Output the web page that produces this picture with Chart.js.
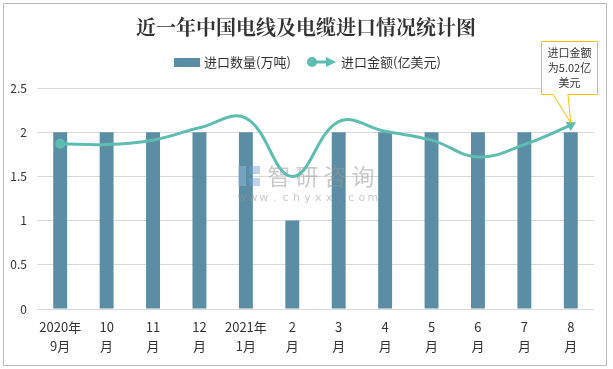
<!DOCTYPE html>
<html><head><meta charset="utf-8">
<script src="https://cdn.jsdelivr.net/npm/chart.js@4"></script>
<style>html,body{margin:0;padding:0;background:#fff}#wrap{width:613px;height:369px;position:relative}</style>
</head><body><div id="wrap"><canvas id="c" width="613" height="369"></canvas></div>
<script>
const title = '近一年中国电线及电缆进口情况统计图';
const categories = [['2020年','9月'],['10','月'],['11','月'],['12','月'],['2021年','1月'],['2','月'],['3','月'],['4','月'],['5','月'],['6','月'],['7','月'],['8','月']];
const quantityName = '进口数量(万吨)';
const amountName = '进口金额(亿美元)';
const quantity = [2,2,2,2,2,1,2,2,2,2,2,2];
const amount = [1.87,1.86,1.91,2.05,2.16,1.50,2.12,2.01,1.91,1.72,1.86,2.08];
const yTicks = [0,0.5,1,1.5,2,2.5];
const calloutLines = ['进口金额','为5.02亿','美元'];

const BAR = '#5b8ea5', LINE = '#5ebcb1';
const FONT = '"Microsoft YaHei","Noto Sans CJK SC",sans-serif';

const n = amount.length;
const decor = {
  id:'decor',
  beforeDraw(ch){
    const c = ch.ctx;
    c.save();
    c.fillStyle='#fff'; c.fillRect(0,0,ch.width,ch.height);
    c.strokeStyle='#bdbdbd'; c.lineWidth=1;
    c.strokeRect(3.5,3.5,603,362);
    c.restore();
  },
  beforeDatasetDraw(ch,args){
    if(args.index!==1) return;
    const c = ch.ctx;
    c.save();
    c.fillStyle='rgba(150,185,220,0.45)';
    c.fillRect(238,166,8,20);
    c.fillStyle='rgba(110,160,215,0.45)';
    c.fillRect(249,166,11,8); c.fillRect(249,178,11,8);
    c.fillStyle='rgba(150,150,150,0.5)';
    c.font='23px "Noto Sans CJK SC",sans-serif';
    c.textBaseline='middle'; c.textAlign='center';
    ['智','研','咨','询'].forEach((t,i)=>c.fillText(t,279+i*28,176));
    c.font='11px "DejaVu Sans",sans-serif';
    const w='www.chyxx.com';
    for(let i=0;i<w.length;i++){ c.fillText(w[i],242+i*10.9,198); }
    c.restore();
  },
  afterDraw(ch){
    const c = ch.ctx;
    c.save();
    // title
    c.fillStyle='#333'; c.textAlign='center'; c.textBaseline='middle';
    c.font='bold 20px "Noto Serif CJK SC",serif';
    c.fillText(title,306,27);
    // legend
    c.font='13px '+FONT; c.textAlign='left';
    c.fillStyle=BAR; c.fillRect(174,58,26,9);
    c.fillStyle='#333'; c.fillText(quantityName,204,62.5);
    c.strokeStyle=LINE; c.lineWidth=3;
    c.beginPath(); c.moveTo(312,62); c.lineTo(328,62); c.stroke();
    c.fillStyle=LINE; c.beginPath(); c.arc(312,62,5,0,Math.PI*2); c.fill();
    c.beginPath(); c.moveTo(336,62); c.lineTo(326,57); c.lineTo(326,67); c.closePath(); c.fill();
    c.fillStyle='#333'; c.fillText(amountName,341,62.5);
    // callout anchored to last point
    const meta = ch.getDatasetMeta(1);
    const p = meta.data[n-1];
    const tipX = p.x, tipY = p.y-2;
    const bx=541.5, by=41.5, bw=56, bh=53;
    c.beginPath();
    c.moveTo(bx,by); c.lineTo(bx+bw,by); c.lineTo(bx+bw,by+bh);
    c.lineTo(568,by+bh); c.lineTo(tipX,tipY); c.lineTo(553,by+bh);
    c.lineTo(bx,by+bh); c.closePath();
    c.fillStyle='#fff'; c.fill();
    c.strokeStyle='#ffc000'; c.lineWidth=1; c.stroke();
    c.fillStyle='#333'; c.font='11px '+FONT; c.textAlign='center';
    calloutLines.forEach((t,i)=>c.fillText(t,bx+bw/2,52.5+i*15));
    c.restore();
  }
};

const pr = amount.map((v,i)=> i===0?5:(i===n-1?6:0));
const ps = amount.map((v,i)=> i===n-1?'triangle':'circle');
const rot = amount.map((v,i)=> i===n-1?62:0);

new Chart(document.getElementById('c'),{
  data:{
    labels:categories,
    datasets:[
      {type:'bar',label:quantityName,data:quantity,backgroundColor:BAR,categoryPercentage:1,barPercentage:0.3,order:1},
      {type:'line',label:amountName,data:amount,borderColor:LINE,backgroundColor:LINE,borderWidth:3,tension:0.4,
       pointRadius:pr,pointHoverRadius:pr,pointStyle:ps,rotation:rot,pointBorderWidth:0,order:0}
    ]
  },
  options:{
    responsive:false,animation:false,devicePixelRatio:1,
    layout:{padding:{left:0,right:19,top:88,bottom:6}},
    plugins:{legend:{display:false},tooltip:{enabled:false},title:{display:false}},
    scales:{
      x:{grid:{display:false,drawTicks:false,tickLength:0},border:{display:false},
         ticks:{color:'#333',font:{size:13,family:FONT,lineHeight:1.46},padding:9,maxRotation:0,autoSkip:false},
         afterFit(s){s.height=54;}},
      y:{min:0,max:2.5,
         afterBuildTicks(s){s.ticks=yTicks.map(v=>({value:v}));},
         grid:{color:'#d9d9d9',drawTicks:false},border:{display:false},
         ticks:{color:'#333',font:{size:12,family:FONT},padding:10,callback:v=>String(v)},
         afterFit(s){s.width=37;}}
    }
  },
  plugins:[decor]
});
</script></body></html>
